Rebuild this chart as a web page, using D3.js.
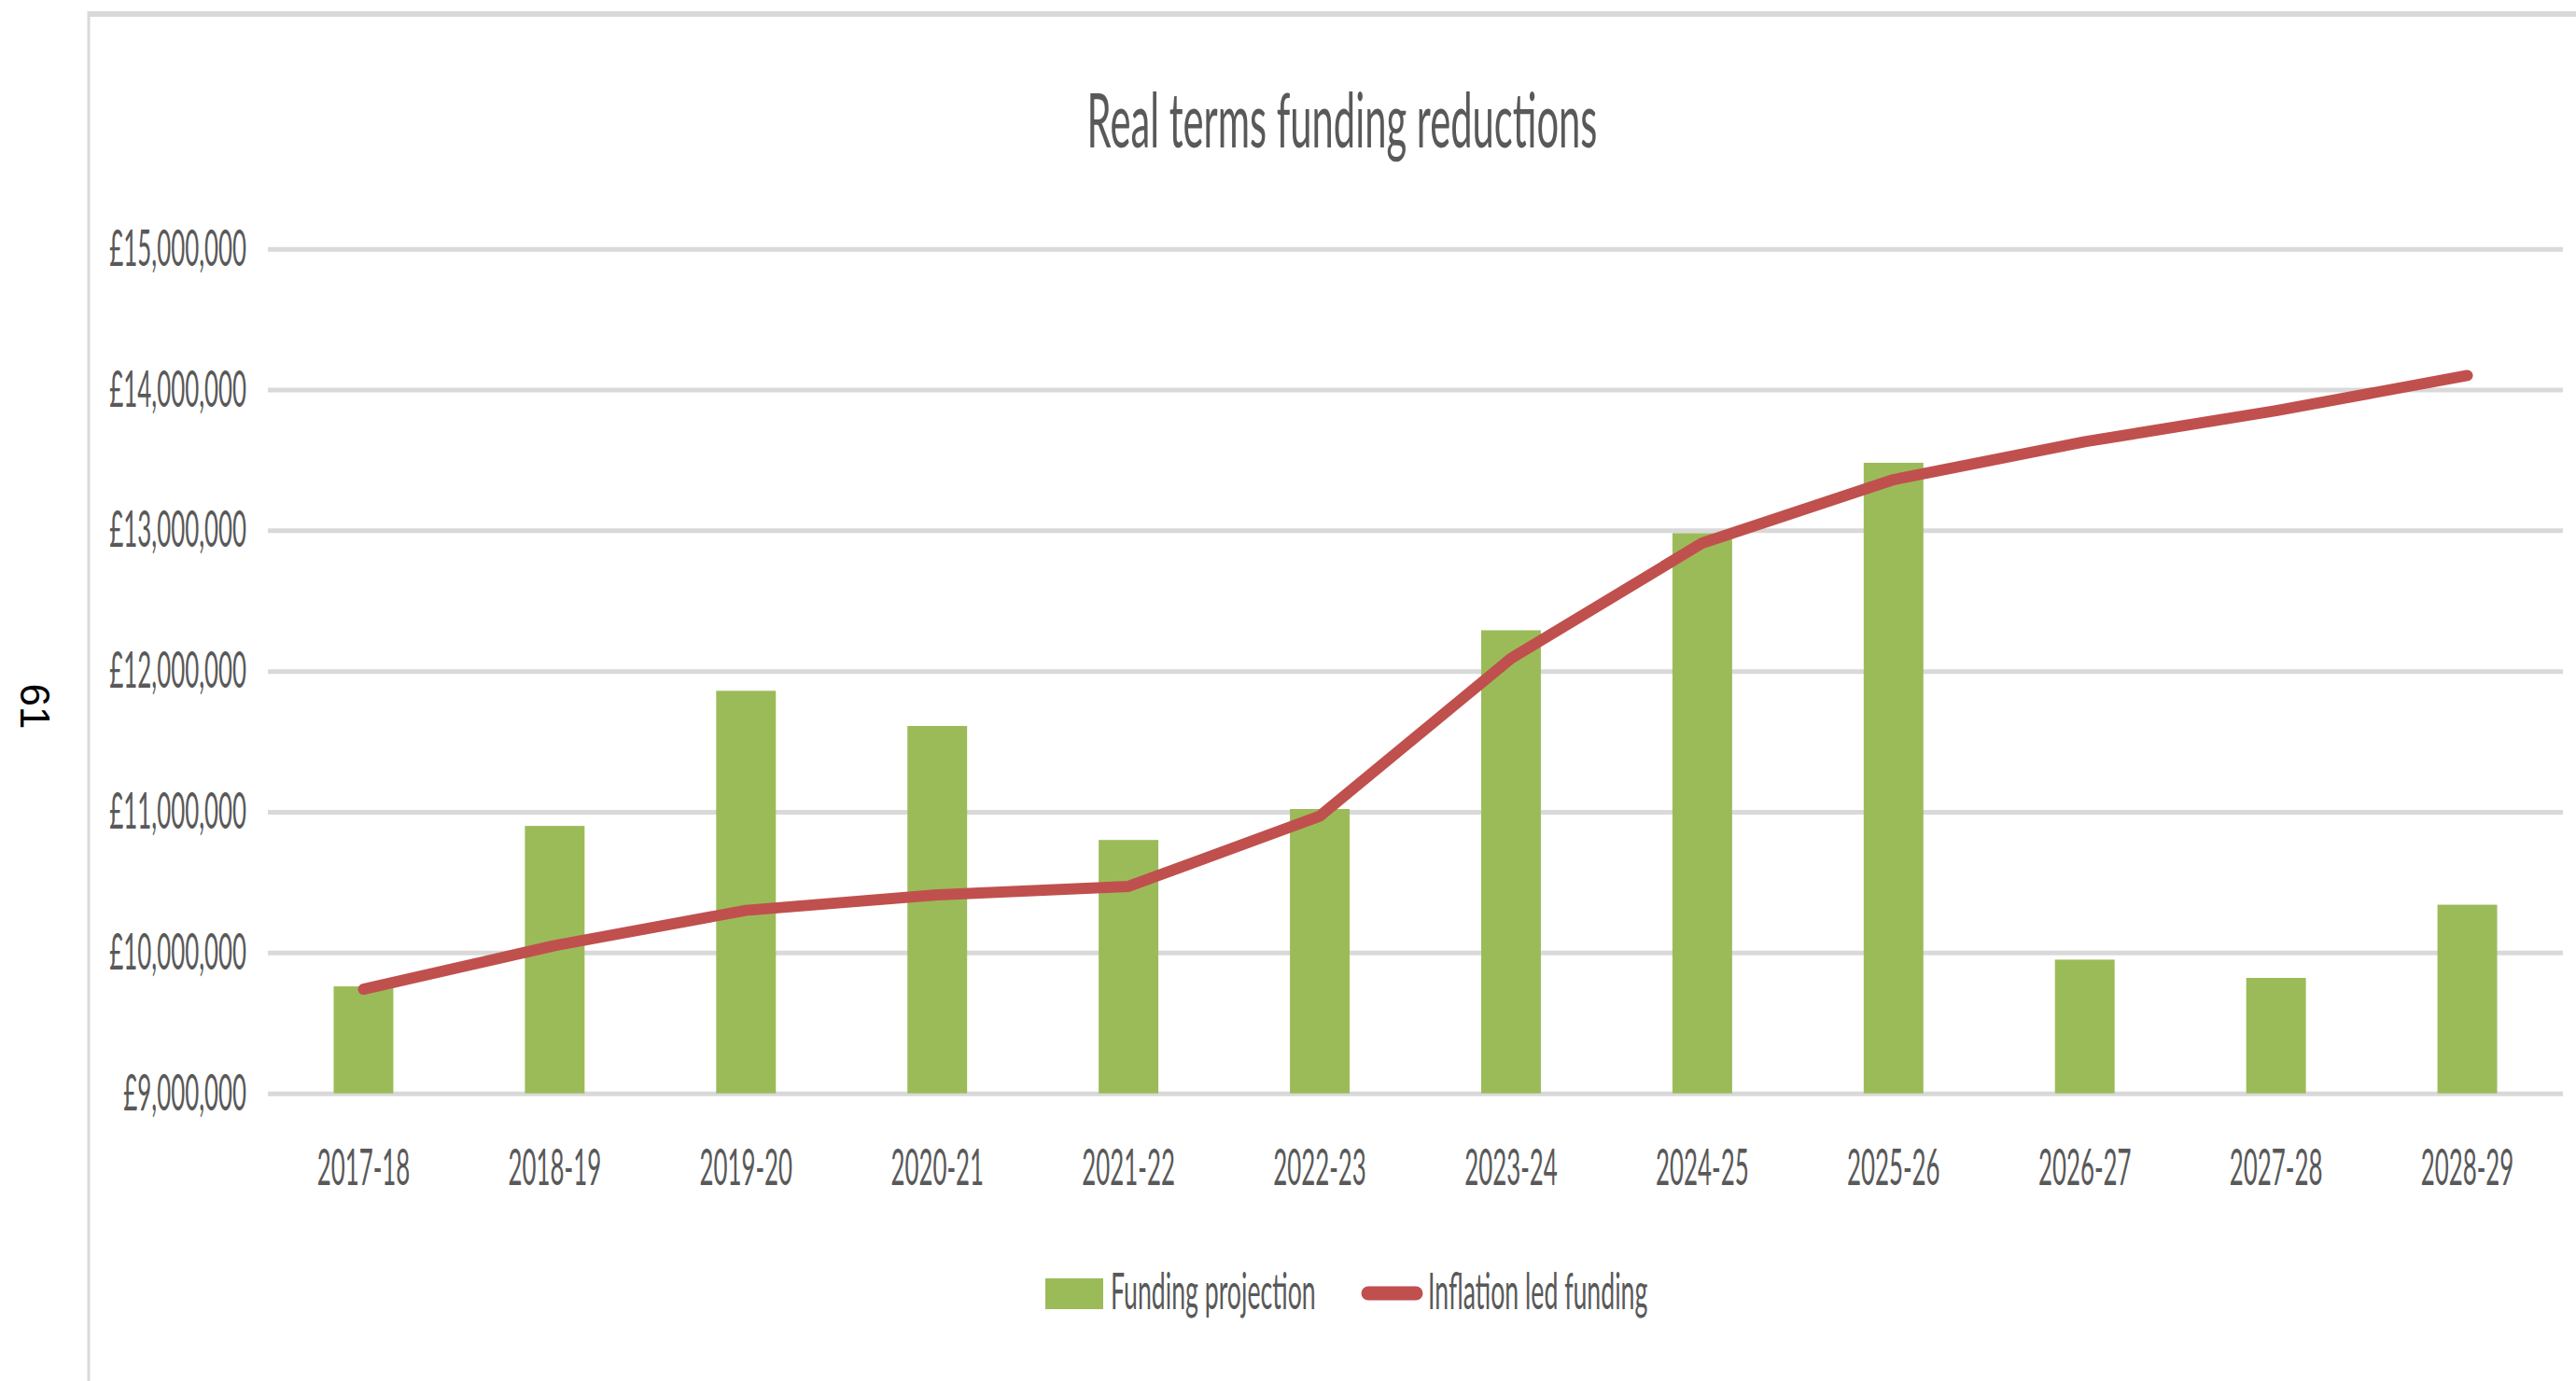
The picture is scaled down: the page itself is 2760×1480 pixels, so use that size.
<!DOCTYPE html>
<html>
<head>
<meta charset="utf-8">
<script src="https://cdn.jsdelivr.net/npm/d3@7"></script>
<style>
  html, body { margin: 0; padding: 0; background: #fff; }
  svg { display: block; }
  text { font-family: Lato, "Open Sans", sans-serif; fill: #595959; }
</style>
</head>
<body>
<div id="chart"></div>
<script>
// Data
const years = ["2017-18", "2018-19", "2019-20", "2020-21", "2021-22", "2022-23",
               "2023-24", "2024-25", "2025-26", "2026-27", "2027-28", "2028-29"];
const fundingProjection = [9760000, 10900000, 11860000, 11610000, 10800000, 11020000,
                           12290000, 12980000, 13480000, 9950000, 9820000, 10340000];
const inflationLed = [9740000, 10050000, 10300000, 10410000, 10470000, 10970000,
                      12090000, 12910000, 13360000, 13630000, 13850000, 14100000];
const yTicks = [9000000, 10000000, 11000000, 12000000, 13000000, 14000000, 15000000];
const seriesNames = ["Funding projection", "Inflation led funding"];
const chartTitle = "Real terms funding reductions";
const pageNumber = "61";

// Layout
const W = 2760, H = 1480;
const PLOT = { left: 287, right: 2746, top: 266.7, bottom: 1171.7 };
const SX = 0.47; // horizontal squeeze of the (stretched) Excel text
const SX_TITLE = 0.515;
const SX_LEGEND = 0.485;
const GREEN = "#9BBB59", RED = "#C0504D", GRID = "#D9D9D9";

const svg = d3.select("#chart").append("svg")
    .attr("width", W)
    .attr("height", H);

// Page frame
svg.append("line")
    .attr("x1", 95).attr("x2", W).attr("y1", 15).attr("y2", 15)
    .attr("stroke", GRID).attr("stroke-width", 6);
svg.append("line")
    .attr("x1", 95).attr("x2", 95).attr("y1", 12).attr("y2", H)
    .attr("stroke", GRID).attr("stroke-width", 3);

// Page number
svg.append("text")
    .attr("transform", "translate(37,757) rotate(90)")
    .attr("text-anchor", "middle")
    .attr("dy", "0.35em")
    .style("font-family", "'Liberation Sans', Arial, sans-serif")
    .style("font-size", "44px")
    .style("fill", "#000")
    .text(pageNumber);

// Scales
const x = d3.scaleBand()
    .domain(years)
    .range([PLOT.left, PLOT.right])
    .paddingInner(0.688)
    .paddingOuter(0.344);

const y = d3.scaleLinear()
    .domain([9000000, 15000000])
    .range([PLOT.bottom, PLOT.top]);

const cx = d => x(d) + x.bandwidth() / 2;

// Y axis + gridlines
const yAxis = svg.append("g")
    .attr("transform", `translate(${PLOT.left},0)`)
    .call(d3.axisLeft(y)
        .tickValues(yTicks)
        .tickSize(-(PLOT.right - PLOT.left))
        .tickPadding(23)
        .tickFormat(d => "£" + d3.format(",")(d)));
yAxis.select(".domain").remove();
yAxis.selectAll(".tick line").attr("stroke", GRID).attr("stroke-width", 5);
yAxis.selectAll(".tick text")
    .attr("x", 0)
    .attr("transform", `translate(-23,0) scale(${SX},1)`)
    .style("font-size", "55px")
    .style("font-family", "Lato, 'Open Sans', sans-serif")
    .attr("fill", "#595959");

// X axis labels
const xAxis = svg.append("g")
    .attr("transform", `translate(0,${PLOT.bottom})`)
    .call(d3.axisBottom(x).tickSize(0).tickPadding(59));
xAxis.select(".domain").remove();
xAxis.selectAll(".tick text")
    .attr("y", 0)
    .attr("transform", `translate(0,59) scale(${SX},1)`)
    .style("font-size", "55px")
    .style("font-family", "Lato, 'Open Sans', sans-serif")
    .attr("fill", "#595959");

// Bars
svg.append("g")
    .selectAll("rect")
    .data(years)
    .join("rect")
    .attr("x", d => x(d))
    .attr("width", x.bandwidth())
    .attr("y", (d, i) => y(fundingProjection[i]))
    .attr("height", (d, i) => y(9000000) - y(fundingProjection[i]))
    .attr("fill", GREEN);

// Line
const line = d3.line()
    .x((d, i) => cx(years[i]))
    .y(d => y(d));

svg.append("path")
    .datum(inflationLed)
    .attr("fill", "none")
    .attr("stroke", RED)
    .attr("stroke-width", 12)
    .attr("stroke-linecap", "round")
    .attr("stroke-linejoin", "round")
    .attr("d", line);

// Title
svg.append("text")
    .attr("transform", `translate(1438,158) scale(${SX_TITLE},1)`)
    .attr("text-anchor", "middle")
    .style("font-size", "81px")
    .text(chartTitle);

// Legend
const legend = svg.append("g");
legend.append("rect")
    .attr("x", 1120).attr("y", 1370)
    .attr("width", 62).attr("height", 33)
    .attr("fill", GREEN);
legend.append("text")
    .attr("transform", `translate(1190,1403) scale(${SX_LEGEND},1)`)
    .style("font-size", "55px")
    .text(seriesNames[0]);
legend.append("line")
    .attr("x1", 1466).attr("x2", 1517)
    .attr("y1", 1386).attr("y2", 1386)
    .attr("stroke", RED)
    .attr("stroke-width", 15)
    .attr("stroke-linecap", "round");
legend.append("text")
    .attr("transform", `translate(1530,1403) scale(${SX_LEGEND},1)`)
    .style("font-size", "55px")
    .text(seriesNames[1]);
</script>
</body>
</html>
